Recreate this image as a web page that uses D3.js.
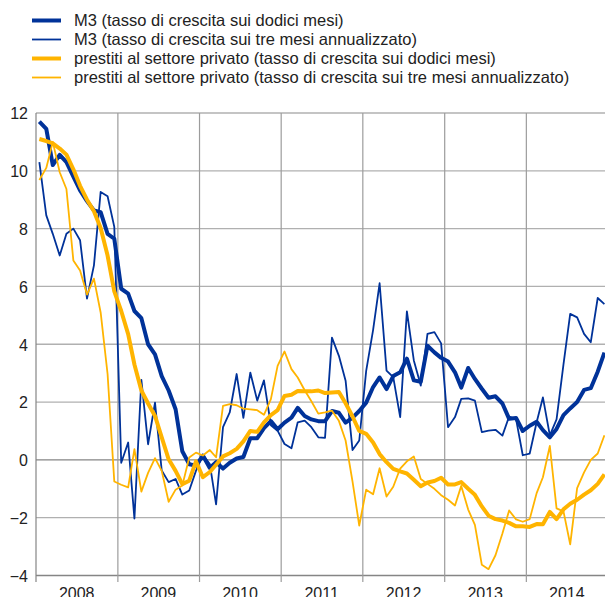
<!DOCTYPE html>
<html>
<head>
<meta charset="utf-8">
<script src="https://cdn.jsdelivr.net/npm/d3@7"></script>
<style>
  body { margin: 0; background: #fff; }
  text { font-family: "Liberation Sans", Arial, sans-serif; font-size: 16px; fill: #222; }
  .legend text { font-size: 16.5px; }
</style>
</head>
<body>
<div id="chart"></div>
<script>
// monthly observations, Jan 2008 - Dec 2014
const startYear = 2008, nMonths = 84;
const years = [2008, 2009, 2010, 2011, 2012, 2013, 2014];
const yTicks = [-4, -2, 0, 2, 4, 6, 8, 10, 12];

const seriesNames = [
  "M3 (tasso di crescita sui dodici mesi)",
  "M3 (tasso di crescita sui tre mesi annualizzato)",
  "prestiti al settore privato (tasso di crescita sui dodici mesi)",
  "prestiti al settore privato (tasso di crescita sui tre mesi annualizzato)"
];

const m3Annual = [
  11.7, 11.45, 10.2, 10.55, 10.3, 9.8, 9.32, 8.95, 8.63, 8.57, 7.82, 7.65,
  5.92, 5.75, 5.15, 4.9, 4.0, 3.65, 2.9, 2.4, 1.75, 0.3, -0.15, -0.2,
  0.15, -0.28, -0.08, -0.3, -0.1, 0.05, 0.1, 0.75, 0.75, 1.1, 1.34, 1.06,
  1.29, 1.46, 1.8, 1.52, 1.4, 1.34, 1.34, 1.69, 1.63, 1.29, 1.46, 1.69,
  1.98, 2.52, 2.85, 2.45, 2.9, 3.03, 3.5, 2.75, 2.7, 3.95, 3.72, 3.53,
  3.4, 3.03, 2.5, 3.18, 2.8, 2.46, 2.15, 2.2, 1.95, 1.42, 1.45, 1.0,
  1.18, 1.32, 1.03, 0.78, 1.07, 1.55, 1.78, 2.0, 2.42, 2.48, 3.05, 3.71
];
const m3ThreeMonth = [
  10.3, 8.46, 7.82, 7.07, 7.82, 8.0, 7.6, 5.58, 6.73, 9.27, 9.12, 8.06,
  -0.1, 0.6, -2.03, 2.77, 0.54, 1.98, -0.37, -0.77, -0.66, -1.2, -1.06, -0.38,
  0.18, -0.14, -1.54, 1.13, 1.64, 2.97, 1.45, 3.02, 2.05, 2.75, 1.2, 1.01,
  0.55, 0.4, 1.3, 1.36, 1.13, 0.78, 0.76, 4.23, 3.6, 2.74, 0.34, 0.67,
  3.08, 4.5, 6.11, 3.09, 2.86, 1.48, 5.14, 3.44, 2.57, 4.36, 4.42, 4.03,
  1.13, 1.48, 2.11, 2.13, 2.05, 0.96, 1.01, 1.04, 0.84, 1.5, 1.41, 0.16,
  0.22, 1.3, 2.16, 0.85, 1.4, 3.3, 5.05, 4.93, 4.36, 4.07, 5.6, 5.39
];
const loansAnnual = [
  11.1, 11.03, 10.95, 10.77, 10.56, 10.05, 9.48, 9.0, 8.6, 8.02, 7.07, 5.83,
  5.15, 4.35, 3.3, 2.4, 1.95, 1.52, 0.78, 0.02, -0.38, -0.84, -0.72, -0.05,
  -0.6, -0.42, -0.17, 0.12, 0.23, 0.38, 0.64, 1.0, 0.97, 1.3, 1.55, 1.72,
  2.21, 2.25, 2.38, 2.37, 2.37, 2.4, 2.31, 2.33, 2.35, 1.96, 1.5, 1.0,
  0.9, 0.6, 0.2, -0.08, -0.31, -0.4, -0.47, -0.69, -0.91, -0.78, -0.73, -0.62,
  -0.85, -0.85, -0.77, -1.0, -1.21, -1.61, -1.93, -2.05, -2.1, -2.18, -2.3, -2.3,
  -2.32, -2.22, -2.23, -1.8, -2.05, -1.71, -1.52, -1.38, -1.2, -1.05, -0.83, -0.5
];
const loansThreeMonth = [
  9.68, 10.1, 11.0, 9.95, 9.37, 6.9, 6.55, 5.72, 6.27, 5.1, 2.97, -0.75,
  -0.86, -0.95, 0.37, -1.1, -0.45, 0.06, -0.38, -1.45, -1.03, -0.89, 0.08, 0.25,
  0.15, 0.34, 0.09, 1.87, 1.93, 1.89, 1.77, 1.75, 1.72, 1.56, 2.1, 3.25,
  3.75, 3.14, 2.85, 2.41, 2.03, 1.6, 1.64, 1.7, 1.35, 0.67, -0.75, -2.27,
  -1.03, -1.19, -0.29, -1.27, -0.93, -0.3, -0.05, 0.12, -0.66, -0.83, -1.0, -1.22,
  -1.38, -1.58, -0.9, -1.72, -2.25, -3.63, -3.78, -3.3, -2.55, -1.75, -2.06, -2.14,
  -2.05, -1.15, -0.6, 0.48, -1.68, -1.78, -2.92, -0.98, -0.43, 0.0, 0.22, 0.85
];

const width = 605, height = 597;
const margin = ({top: 113, right: -3, bottom: 21.5, left: 36});
const blue = "#003299", yellow = "#ffb400";

const months = d3.range(nMonths).map(i => d3.timeDay.offset(new Date(startYear, i, 1), 15));

const x = d3.scaleTime()
    .domain([new Date(startYear, 0, 1), new Date(startYear + years.length, 0, 1)])
    .range([margin.left, width - margin.right]);
const y = d3.scaleLinear()
    .domain([-4, 12])
    .range([height - margin.bottom, margin.top]);

const svg = d3.select("#chart").append("svg")
    .attr("width", width).attr("height", height);

// horizontal grid
svg.append("g").selectAll("line").data(yTicks).join("line")
    .attr("x1", margin.left).attr("x2", width - margin.right)
    .attr("y1", d => y(d)).attr("y2", d => y(d))
    .attr("stroke", d => (d === 0 || d === -4) ? "#858585" : "#b0b0b0")
    .attr("stroke-width", 1.3);

// vertical grid + ticks at year boundaries
svg.append("g").selectAll("line").data(years).join("line")
    .attr("x1", d => x(new Date(d, 0, 1))).attr("x2", d => x(new Date(d, 0, 1)))
    .attr("y1", y(12)).attr("y2", y(-4) + 6.5)
    .attr("stroke", d => d === startYear ? "#858585" : "#9c9c9c")
    .attr("stroke-width", 1.2);

// y axis labels
const yAxis = d3.axisLeft(y).tickValues(yTicks).tickSize(0).tickPadding(8);
svg.append("g")
    .attr("transform", `translate(${margin.left},0)`)
    .call(yAxis)
    .call(g => g.select(".domain").remove())
    .call(g => g.selectAll("text")
        .attr("font-family", null).attr("font-size", null).attr("fill", null)
        .attr("dy", "0.36em"));

// year labels, centred in each year
svg.append("g").selectAll("text").data(years).join("text")
    .attr("x", d => x(new Date(d, 6, 1)))
    .attr("y", height + 1.5)
    .attr("text-anchor", "middle")
    .text(d => d);

const series = [
  {values: m3Annual, color: blue, w: 4},
  {values: m3ThreeMonth, color: blue, w: 1.8},
  {values: loansAnnual, color: yellow, w: 4},
  {values: loansThreeMonth, color: yellow, w: 1.8}
];

const line = d3.line()
    .x((d, i) => x(months[i]))
    .y(d => y(d));

svg.append("g").selectAll("path").data(series).join("path")
    .attr("d", d => line(d.values))
    .attr("fill", "none")
    .attr("stroke", d => d.color)
    .attr("stroke-width", d => d.w)
    .attr("stroke-linejoin", "round");

// legend
const legend = svg.append("g").attr("class", "legend")
  .selectAll("g").data(series).join("g")
    .attr("transform", (d, i) => `translate(0,${20.5 + i * 19})`);
legend.append("line")
    .attr("x1", 32).attr("x2", 61)
    .attr("stroke", d => d.color)
    .attr("stroke-width", d => d.w);
legend.append("text")
    .attr("x", 74).attr("dy", "0.36em")
    .text((d, i) => seriesNames[i]);
</script>
</body>
</html>
